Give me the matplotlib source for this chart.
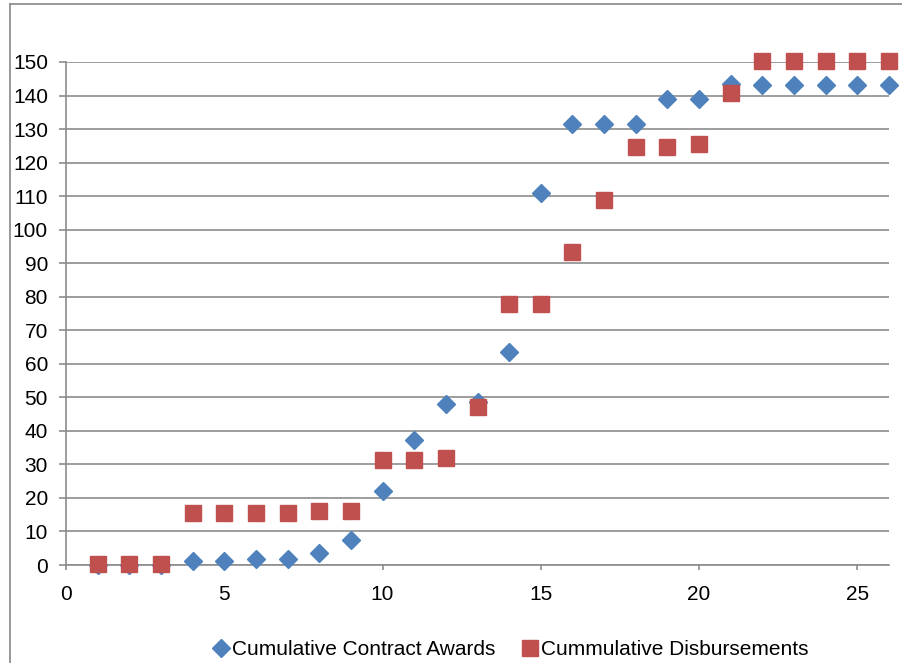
import matplotlib.pyplot as plt
from matplotlib.lines import Line2D

plt.rcParams['font.family'] = ['Liberation Sans', 'DejaVu Sans']

# 数据
periods = list(range(1, 27))
contract_awards = [0, 0, 0, 1.2, 1.2, 1.7, 1.7, 3.7, 7.5, 22.1, 37.3, 48.0, 48.7,
                   63.6, 111.0, 131.6, 131.6, 131.6, 138.9, 138.9, 143.3,
                   143.1, 143.1, 143.1, 143.1, 143.1]
disbursements = [0.3, 0.3, 0.3, 15.6, 15.6, 15.6, 15.6, 16.1, 16.1, 31.3, 31.3,
                 31.8, 47.1, 77.7, 77.7, 93.4, 108.7, 124.6, 124.6, 125.6, 140.8,
                 150.2, 150.2, 150.2, 150.2, 150.2]
x_ticks = [0, 5, 10, 15, 20, 25]
y_ticks = list(range(0, 151, 10))

blue = '#4F81BD'
red = '#C0504D'
grid_c = '#8C8C8C'

fig = plt.figure(figsize=(9.02, 6.63), dpi=100)
ax = fig.add_axes([0.0732, 0.1478, 0.9124, 0.7587])

ax.plot(periods, contract_awards, linestyle='none', marker='D', markersize=9.5,
        color=blue, label='Cumulative Contract Awards', zorder=3, clip_on=False)
ax.plot(periods, disbursements, linestyle='none', marker='s', markersize=12,
        color=red, label='Cummulative Disbursements', zorder=4, clip_on=False)

ax.set_xlim(0, 26)
ax.set_ylim(0, 150)
ax.set_xticks(x_ticks)
ax.set_yticks(y_ticks)
ax.yaxis.grid(True, color=grid_c, linewidth=1.2)
ax.set_axisbelow(True)
for s in ['top', 'right']:
    ax.spines[s].set_visible(False)
for s in ['left', 'bottom']:
    ax.spines[s].set_color(grid_c)
    ax.spines[s].set_linewidth(1.2)
ax.tick_params(axis='y', direction='out', length=5, width=1.2, color=grid_c,
               labelsize=15, pad=8)
ax.tick_params(axis='x', direction='out', length=3.5, width=1.2, color=grid_c,
               labelsize=15, pad=11)

ax.legend(loc='center', bbox_to_anchor=(0.541, -0.168), ncol=2, frameon=False,
          fontsize=15, handlelength=0.7, handletextpad=0.2, columnspacing=1.3,
          borderpad=0)

# 外框
fig.add_artist(Line2D([10 / 902, 10 / 902], [0, 1 - 4 / 663], color='#888888',
                      linewidth=1.2, transform=fig.transFigure))
fig.add_artist(Line2D([10 / 902, 1], [1 - 4 / 663, 1 - 4 / 663], color='#888888',
                      linewidth=1.2, transform=fig.transFigure))

plt.savefig('out.png', dpi=100)
